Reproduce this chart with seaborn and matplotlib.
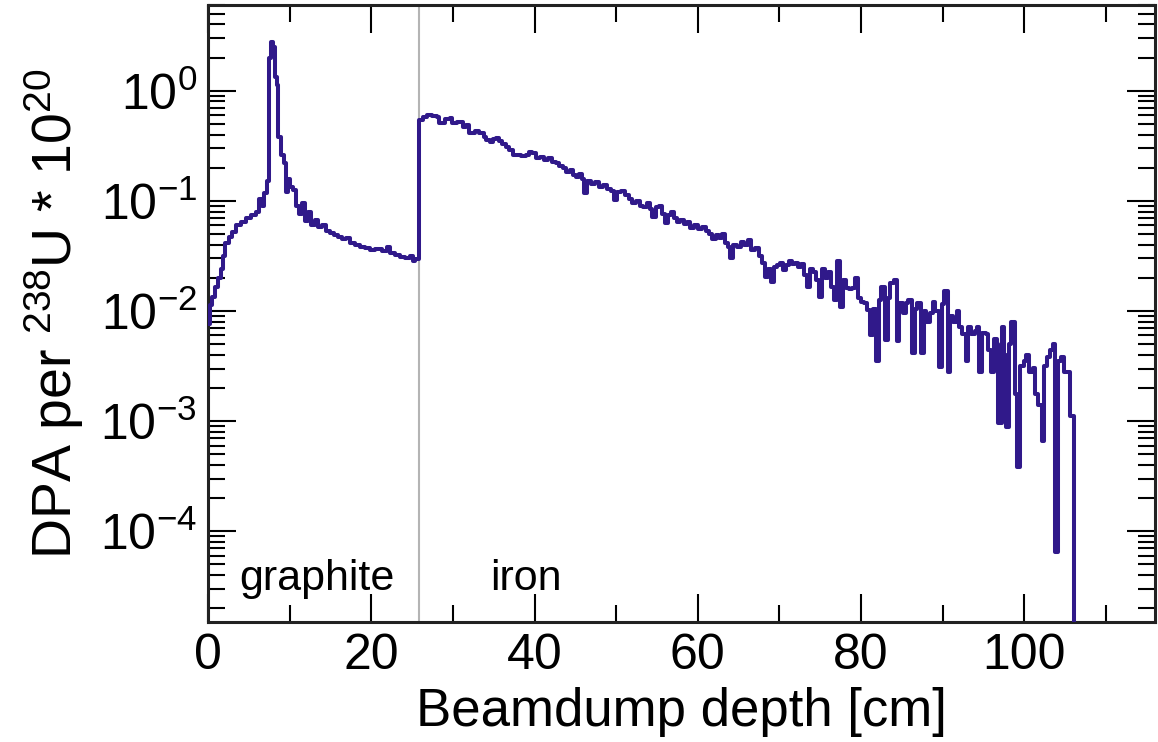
"""
DPA profile along the beam dump (graphite + iron), step histogram on a log axis.
"""

import numpy as np
import pandas as pd
import matplotlib
matplotlib.use('Agg')
import matplotlib.pyplot as plt
import seaborn as sns

# Bin left edges [cm] and log10(DPA per 238U * 1e20)
GRAPHITE_DEPTH = [0.0, 0.25, 0.5, 0.85, 1.2, 1.6, 1.8, 2.1, 2.55, 2.9, 3.4, 4.0, 4.6,
                  5.25, 5.85, 6.25, 6.6, 6.85, 7.2, 7.45, 7.7, 7.95, 8.2, 8.45, 8.55,
                  8.9, 9.3, 9.55, 9.8, 10.0, 10.4, 10.75, 11.1, 11.5, 11.85, 12.2, 12.6,
                  13.1, 13.45, 13.95, 14.4, 14.9, 15.4, 15.9, 16.4, 16.9, 17.35, 18.0,
                  18.6, 19.2, 19.8, 20.5, 21.3, 21.9, 22.25, 22.85, 23.5, 24.1, 24.7,
                  25.1, 25.4]
GRAPHITE_LOG = [-2.12, -1.95, -1.87, -1.78, -1.70, -1.62, -1.50, -1.38, -1.33, -1.28,
                -1.22, -1.19, -1.16, -1.13, -1.10, -0.98, -1.05, -0.93, -0.82, 0.30,
                0.44, 0.40, 0.12, 0.05, -0.42, -0.58, -0.66, -0.92, -0.80, -0.87, -0.90,
                -1.05, -1.12, -1.02, -1.18, -1.10, -1.22, -1.17, -1.24, -1.22, -1.27,
                -1.29, -1.31, -1.33, -1.35, -1.34, -1.38, -1.40, -1.42, -1.43, -1.45,
                -1.44, -1.46, -1.42, -1.47, -1.49, -1.51, -1.52, -1.50, -1.55, -1.53]

IRON_DEPTH = [25.9, 26.3, 26.8, 27.5, 28.0, 28.35, 29.0, 29.6, 29.95, 30.55, 31.2, 31.65,
              32.0, 32.65, 33.25, 33.75, 34.1, 34.5, 34.95, 35.3, 35.7, 36.05, 36.55,
              36.9, 37.4, 37.8, 38.4, 39.0, 39.35, 39.75, 40.2, 40.7, 41.2, 41.7, 42.2,
              42.65, 43.0, 43.5, 43.9, 44.4, 44.75, 45.1, 45.5, 45.85, 46.1, 46.45,
              46.95, 47.45, 47.9, 48.4, 48.9, 49.4, 49.75, 50.1, 50.6, 51.1, 51.6,
              51.95, 52.45, 52.95, 53.3, 53.8, 54.15, 54.4, 54.9, 55.25, 55.6, 56.0,
              56.35, 56.7, 57.1, 57.45, 57.8, 58.3, 58.7, 59.05, 59.55, 60.0, 60.5,
              61.0, 61.35, 61.75, 62.2, 62.6, 62.95, 63.3, 63.7, 63.95, 64.3, 64.8,
              65.3, 65.65, 66.15, 66.5, 67.0, 67.5, 67.85, 68.2, 68.6, 68.95, 69.3,
              69.7, 70.05, 70.4, 70.8, 71.15, 71.5, 71.9, 72.25, 72.6, 73.0, 73.35,
              73.7, 74.1, 74.45, 74.8, 75.2, 75.55, 75.9, 76.3, 76.65, 77.0, 77.4,
              77.75, 78.1, 78.5, 78.85, 79.2, 79.6, 79.95, 80.3, 80.7, 81.05, 81.4,
              81.8, 82.15, 82.5, 82.9, 83.25, 83.6, 84.0, 84.35, 84.7, 85.1, 85.45,
              85.8, 86.2, 86.55, 86.9, 87.3, 87.65, 88.0, 88.4, 88.75, 89.1, 89.5,
              89.85, 90.2, 90.6, 90.95, 91.3, 91.7, 92.05, 92.4, 92.8, 93.15, 93.5,
              93.9, 94.25, 94.5, 94.85, 95.25, 95.6, 95.95, 96.3, 96.6, 96.8, 97.2,
              97.55, 97.8, 98.15, 98.4, 98.8, 99.15, 99.5, 99.9, 100.25, 100.6, 101.0,
              101.35, 101.7, 102.1, 102.45, 102.8, 103.2, 103.55, 103.8, 104.15,
              104.5, 104.9, 105.25, 105.6, 106.1]
IRON_LOG = [-0.27, -0.24, -0.22, -0.23, -0.24, -0.29, -0.26, -0.25, -0.29, -0.28, -0.33,
            -0.31, -0.38, -0.37, -0.38, -0.42, -0.45, -0.47, -0.44, -0.43, -0.46, -0.48,
            -0.51, -0.54, -0.58, -0.58, -0.59, -0.58, -0.56, -0.57, -0.61, -0.60, -0.63,
            -0.61, -0.65, -0.66, -0.68, -0.70, -0.74, -0.72, -0.77, -0.78, -0.76, -0.80,
            -0.93, -0.82, -0.85, -0.83, -0.87, -0.86, -0.89, -0.91, -0.99, -0.92, -0.91,
            -0.95, -0.98, -1.02, -1.00, -1.05, -1.06, -1.02, -1.07, -1.15, -1.06, -1.05,
            -1.12, -1.20, -1.13, -1.10, -1.16, -1.19, -1.17, -1.21, -1.19, -1.25, -1.22,
            -1.26, -1.24, -1.27, -1.30, -1.35, -1.31, -1.34, -1.30, -1.38, -1.42, -1.52,
            -1.40, -1.42, -1.37, -1.40, -1.36, -1.45, -1.43, -1.50, -1.56, -1.69, -1.62,
            -1.74, -1.60, -1.58, -1.56, -1.63, -1.58, -1.55, -1.57, -1.56, -1.60, -1.57,
            -1.67, -1.78, -1.62, -1.65, -1.72, -1.87, -1.62, -1.70, -1.65, -1.78, -1.90,
            -1.55, -1.96, -1.72, -1.79, -1.80, -1.79, -1.70, -1.88, -1.92, -1.93, -1.99,
            -2.22, -1.98, -2.45, -1.90, -1.78, -2.26, -1.88, -1.75, -1.72, -2.27, -1.93,
            -2.02, -1.93, -1.90, -2.38, -1.98, -1.93, -2.38, -2.00, -2.10, -2.02, -1.92,
            -2.00, -2.51, -1.94, -1.82, -2.55, -2.05, -2.10, -2.00, -2.15, -2.21, -2.45,
            -2.15, -2.21, -2.18, -2.15, -2.55, -2.20, -2.21, -2.35, -2.55, -2.25, -2.30,
            -3.02, -2.15, -2.40, -3.05, -2.30, -2.10, -2.75, -3.42, -2.50, -2.45, -2.40,
            -2.55, -2.52, -2.75, -2.85, -3.18, -2.50, -2.42, -2.35, -2.30, -4.19, -2.45,
            -2.42, -2.55, -2.55, -2.95, -8.0]

BOUNDARY_CM = 25.9
MATERIALS = ['graphite', 'iron']
MATERIAL_X = [13.4, 39.0]
MATERIAL_Y = 3.7e-5

LINE_COLOR = '#30198a'

df = pd.DataFrame({
    'depth': GRAPHITE_DEPTH + IRON_DEPTH,
    'dpa': 10.0 ** np.array(GRAPHITE_LOG + IRON_LOG),
})

sns.set_theme(style='ticks')
plt.rcParams['font.family'] = ['Liberation Sans', 'DejaVu Sans']
plt.rcParams['mathtext.fontset'] = 'custom'
plt.rcParams['mathtext.rm'] = 'Liberation Sans'
plt.rcParams['mathtext.it'] = 'Liberation Sans:italic'
plt.rcParams['mathtext.default'] = 'regular'
plt.rcParams['text.color'] = 'black'
plt.rcParams['axes.labelcolor'] = 'black'
plt.rcParams['xtick.color'] = 'black'
plt.rcParams['ytick.color'] = 'black'

fig = plt.figure(figsize=(11.58, 7.42), dpi=100)
ax = fig.add_axes([0.1796, 0.1617, 0.8178, 0.8316])

ax.axvline(BOUNDARY_CM, color='#b4b4b4', lw=1.5, zorder=1)
sns.lineplot(data=df, x='depth', y='dpa', ax=ax, drawstyle='steps-post',
             estimator=None, sort=False, color=LINE_COLOR, lw=2.9, zorder=3)

ax.set_yscale('log')
ax.set_xlim(0, 116)
ax.set_ylim(1.5e-5, 6.0)
ax.set_xticks([0, 20, 40, 60, 80, 100])
ax.set_xticks(np.arange(10, 116, 20), minor=True)

for name, xpos in zip(MATERIALS, MATERIAL_X):
    ax.text(xpos, MATERIAL_Y, name, ha='center', va='center', fontsize=31)

ax.set_xlabel('Beamdump depth [cm]', fontsize=38, labelpad=6)
ax.set_ylabel(r'DPA per $^{238}$U * 10$^{20}$', fontsize=40, labelpad=10)

ax.tick_params(which='both', direction='in', top=True, right=True, width=1.5,
               labelsize=36, pad=8)
ax.tick_params(which='major', length=20)
ax.tick_params(which='minor', length=12)
for s in ax.spines.values():
    s.set_linewidth(2.2)
    s.set_color('#222222')

fig.savefig('out.png', dpi=100)
